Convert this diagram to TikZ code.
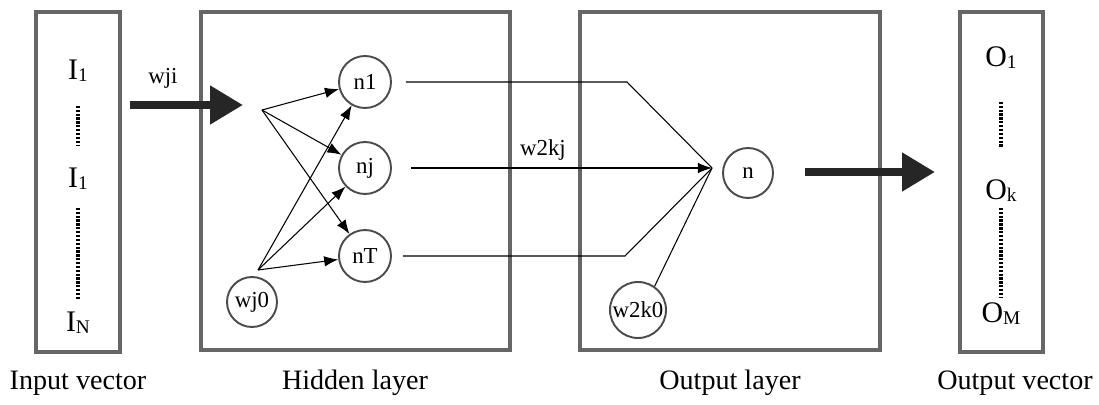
\documentclass[tikz,border=0pt]{standalone}
\usepackage{fontspec}
\setmainfont{Liberation Serif}
\usetikzlibrary{arrows.meta,positioning}

\newcommand{\vsub}[1]{\raisebox{-0.8pt}{\fontsize{11}{11}\selectfont #1}}

\tikzset{
  layerbox/.style={draw=black!60, line width=2.2pt, inner sep=0pt},
  neuron/.style={circle, draw=black!70, line width=1.1pt, inner sep=0pt, minimum size=1.04cm, font=\fontsize{13}{13}\selectfont},
  vecentry/.style={font=\fontsize{17}{17}\selectfont, inner sep=0pt, text height=11pt, text depth=1pt},
  boxcaption/.style={font=\fontsize{16}{16}\selectfont},
  wlabel/.style={font=\fontsize{13}{13}\selectfont},
  link/.style={line width=0.6pt},
  linkarrow/.style={line width=0.6pt, -{Latex[length=8pt,width=6pt]}},
  fatarrow/.style={line width=4.5pt, draw=black!85, -{Triangle[length=0.66cm,width=0.74cm]}},
  dotline/.style={line width=1.8pt, dash pattern=on 1.3pt off 0.9pt},
}

\begin{document}
\begin{tikzpicture}[x=0.02cm, y=-0.02cm]
	\useasboundingbox (0,0) rectangle (1099,405);
	% the four boxes
	\node[layerbox, minimum width=1.68cm, minimum height=6.8cm] (invec) at (78,182) {};
	\node[layerbox, minimum width=6.18cm, minimum height=6.76cm] (hidden) at (355.5,181) {};
	\node[layerbox, minimum width=6.0cm, minimum height=6.76cm] (output) at (730,181) {};
	\node[layerbox, minimum width=1.66cm, minimum height=6.8cm] (outvec) at (1001.5,182) {};

	% input vector
	\node[vecentry] (i1) at (78,71) {I\vsub{1}};
	\node[vecentry] (ij) at (78,179) {I\vsub{1}};
	\node[vecentry] (iN) at (78,323) {I\vsub{N}};
	\draw[dotline, shorten <=0.48cm, shorten >=0.46cm] (i1) -- (ij);
	\draw[dotline, shorten <=0.36cm, shorten >=0.23cm] (ij) -- (iN);

	% output vector
	\node[vecentry] (o1) at (1001,58) {O\vsub{1}};
	\node[vecentry] (ok) at (1001,191) {O\vsub{k}};
	\node[vecentry] (oM) at (1001,314) {O\vsub{M}};
	\draw[dotline, shorten <=0.66cm, shorten >=0.66cm] (o1) -- (ok);
	\draw[dotline, shorten <=0.12cm, shorten >=0.11cm] (ok) -- (oM);

	% hidden layer
	\node[neuron] (n1) at (365,82) {n1};
	\node[neuron] (nj) at (365,168) {nj};
	\node[neuron] (nT) at (365,256) {nT};
	\node[neuron, minimum size=1cm] (wj0) at (252,302) {wj0};
	\coordinate (fan) at (262,110);
	\coordinate (wjtop) at (258,270);
	\foreach \t in {n1,nj,nT} {
		\draw[linkarrow] (fan) -- (\t);
		\draw[linkarrow] (wjtop) -- (\t);
	}

	% output layer
	\node[neuron, minimum size=1cm] (n) at (748,173) {n};
	\node[neuron, minimum size=1.12cm] (w2k0) at (638,310) {w2k0};
	\coordinate (conv) at (712,168);
	\coordinate (bendA) at (627,82);
	\coordinate (bendB) at (625,256);
	\draw[link, shorten <=0.28cm] (n1) -- (bendA) -- (conv);
	\draw[linkarrow, shorten <=0.38cm] (nj) -- (conv);
	\draw[link, shorten <=0.22cm] (nT) -- (bendB) -- (conv);
	\draw[link] (w2k0.55) -- (conv);

	% weights
	\coordinate (wjiA) at (130,105);
	\coordinate (wjiB) at (243,105);
	\draw[fatarrow] (wjiA) -- (wjiB);
	\node[wlabel] (wji) at (163,78) {wji};
	\node[wlabel] (w2kj) at (543,150) {w2kj};
	\coordinate (outA) at (805,172);
	\coordinate (outB) at (935,172);
	\draw[fatarrow] (outA) -- (outB);

	% captions
	\node[boxcaption] (capin) at (78,383) {Input vector};
	\node[boxcaption] (caphid) at (355,383) {Hidden layer};
	\node[boxcaption] (capout) at (730,383) {Output layer};
	\node[boxcaption] (capvec) at (1015,383) {Output vector};
\end{tikzpicture}
\end{document}
